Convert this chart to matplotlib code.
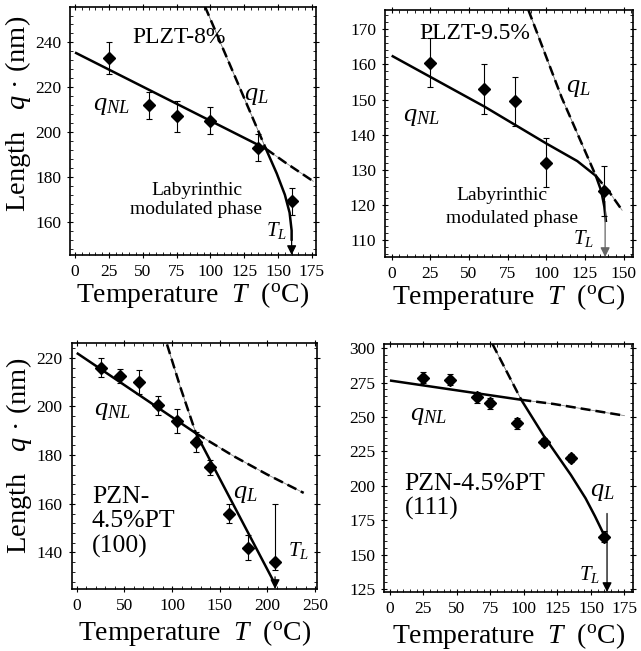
import matplotlib
matplotlib.use('Agg')
import matplotlib.pyplot as plt
from matplotlib.ticker import MultipleLocator

plt.rcParams['font.family'] = ['Liberation Serif', 'DejaVu Serif']
plt.rcParams['mathtext.fontset'] = 'custom'
plt.rcParams['mathtext.rm'] = 'Liberation Serif'
plt.rcParams['mathtext.it'] = 'Liberation Serif:italic'
plt.rcParams['mathtext.bf'] = 'Liberation Serif:bold'

# ---------------- data ----------------
# Panel 1: PLZT-8%
T1 = [25, 55, 75, 100, 135, 160]
q1 = [233, 212, 207, 205, 193, 169]
e1 = [7, 6, 7, 6, 6, 6]
nl1_T = [0, 141]
nl1_q = [235.5, 192.5]
nl1d_T = [141, 155, 176]
nl1d_q = [192.5, 186.5, 178]
l1d_T = [96, 141]
l1d_q = [256, 192.5]
l1_T = [141, 149, 155, 158.5, 160, 160]
l1_q = [192.5, 181.5, 172, 164, 156, 152]
TL1 = 160

# Panel 2: PLZT-9.5%
T2 = [25, 60, 80, 100, 137]
q2 = [160.5, 153, 149.5, 132, 124]
e2 = [7, 7, 7, 7, 7]
nl2_T = [0, 60, 100, 120, 132]
nl2_q = [162.5, 148, 137.5, 132.5, 128.3]
nl2d_T = [132, 141, 149]
nl2d_q = [128.3, 123.5, 118.5]
l2d_T = [88.4, 110, 132]
l2d_q = [175.5, 150.5, 128.3]
l2_T = [132, 135.5, 137.5, 138.5]
l2_q = [128.3, 124, 119.5, 115.5]
TL2 = 138

# Panel 3: PZN-4.5%PT (100)
T3 = [25, 45, 65, 85, 105, 125, 140, 160, 180, 208]
q3 = [216, 212.5, 210, 200.5, 194, 185.5, 175, 156, 142, 136]
e3_lo = [4, 3, 5, 4, 5, 4, 3, 4, 5, 3]
e3_hi = [4, 3, 5, 4, 5, 4, 3, 4, 5, 24]
nl3_T = [0, 125]
nl3_q = [222, 189]
nl3d_T = [125, 165, 200, 238]
nl3d_q = [189, 179.5, 172, 164.5]
l3d_T = [94.7, 108.7, 125]
l3d_q = [225.5, 207.9, 189]
l3_T = [125, 208]
l3_q = [189, 127]
TL3 = 208

# Panel 4: PZN-4.5%PT (111)
T4 = [25, 45, 65, 75, 95, 115, 135, 160]
q4 = [278.5, 277, 264.5, 260, 245.5, 232, 220, 163]
e4 = [4, 4, 4, 4, 4, 3, 3, 4]
nl4_T = [0, 98]
nl4_q = [276.5, 262.5]
nl4d_T = [98, 122, 150, 175]
nl4d_q = [262.5, 259.5, 255, 251]
l4d_T = [76.5, 98]
l4d_q = [303, 262.5]
l4_T = [98, 115, 135, 146, 153, 158, 160.5]
l4_q = [262.5, 236, 208, 191, 178, 168, 163]
TL4 = 162

XLABEL = r'Temperature  $T$  ($^{\mathrm{o}}$C)'
YLABEL = 'Length   $q$ \u00b7 (nm)'

fig = plt.figure(figsize=(6.41, 6.51), dpi=100)


def axes_px(l, t, r, b):
    return fig.add_axes([l / 641, 1 - b / 651, (r - l) / 641, (b - t) / 651])


def style(ax, xlim, ylim, xmaj, ymaj, ylabel=True, xpad=0):
    ax.set_xlim(*xlim)
    ax.set_ylim(*ylim)
    ax.xaxis.set_major_locator(MultipleLocator(xmaj))
    ax.yaxis.set_major_locator(MultipleLocator(ymaj))
    ax.xaxis.set_minor_locator(MultipleLocator(xmaj / 5))
    ax.yaxis.set_minor_locator(MultipleLocator(ymaj / 5))
    ax.tick_params(which='major', direction='inout', length=5, width=0.8,
                   top=True, right=True, labelsize=12.5, pad=4)
    ax.tick_params(which='minor', direction='in', length=2.5, width=0.6,
                   top=True, right=True)
    for s in ax.spines.values():
        s.set_linewidth(1.2)
    ax.set_xlabel(XLABEL, fontsize=20, labelpad=xpad)
    if ylabel:
        ax.set_ylabel(YLABEL, fontsize=20.5)


def draw(ax, T, q, err, nlT, nlq, nldT, nldq, ldT, ldq, lT, lq, TL, arrow_from, ylim0,
         arrow_color='black'):
    ax.plot(nlT, nlq, color='black', lw=1.8, solid_capstyle='butt')
    ax.plot(nldT, nldq, color='0.55', lw=0.6)
    ax.plot(nldT, nldq, color='black', lw=1.8, dashes=(4, 2))
    ax.plot(ldT, ldq, color='0.4', lw=0.6)
    ax.plot(ldT, ldq, color='black', lw=1.8, dashes=(4, 2))
    ax.plot(lT, lq, color='black', lw=1.8)
    ax.annotate('', xy=(TL, ylim0), xytext=(TL, arrow_from),
                arrowprops=dict(arrowstyle='-|>', color=arrow_color, lw=0.9,
                                mutation_scale=14, shrinkA=0, shrinkB=0,
                                facecolor='black', edgecolor=arrow_color))
    ax.errorbar(T, q, yerr=err, fmt='D', ms=6.5, color='black', ecolor='black',
                elinewidth=0.8, capsize=2.5, capthick=0.8, zorder=5)


# Panel 1
ax1 = axes_px(70, 7, 316, 255)
ylim1 = (145.1, 255.8)
style(ax1, (-3.7, 178), ylim1, 25, 20)
draw(ax1, T1, q1, e1, nl1_T, nl1_q, nl1d_T, nl1d_q, l1d_T, l1d_q, l1_T, l1_q,
     TL1, 152, ylim1[0])
ax1.text(77, 242, 'PLZT-8%', fontsize=17, ha='center', va='center')
ax1.text(27, 211.5, r'$q_{NL}$', fontsize=19, ha='center', va='center')
ax1.text(134, 216, r'$q_L$', fontsize=19, ha='center', va='center')
ax1.text(90, 174, 'Labyrinthic', fontsize=14, ha='center', va='center')
ax1.text(89, 165.3, 'modulated phase', fontsize=14, ha='center', va='center')
ax1.text(149, 156, r'$T_L$', fontsize=15, ha='center', va='center')

# Panel 2
ax2 = axes_px(385, 10, 632.5, 257)
ylim2 = (105.2, 175.5)
style(ax2, (-4.3, 155.7), ylim2, 25, 10, ylabel=False)
draw(ax2, T2, q2, e2, nl2_T, nl2_q, nl2d_T, nl2d_q, l2d_T, l2d_q, l2_T, l2_q,
     TL2, 121, ylim2[0], arrow_color='0.4')
ax2.text(54, 168.9, 'PLZT-9.5%', fontsize=17, ha='center', va='center')
ax2.text(19.5, 145, r'$q_{NL}$', fontsize=19, ha='center', va='center')
ax2.text(120.5, 153.2, r'$q_L$', fontsize=19, ha='center', va='center')
ax2.text(71, 122.8, 'Labyrinthic', fontsize=14, ha='center', va='center')
ax2.text(77.5, 116.2, 'modulated phase', fontsize=14, ha='center', va='center')
ax2.text(124, 110.4, r'$T_L$', fontsize=15, ha='center', va='center')

# Panel 3
ax3 = axes_px(71.7, 342.5, 317, 589)
ylim3 = (125, 226.3)
style(ax3, (-5.3, 252), ylim3, 50, 20, xpad=3)
draw(ax3, T3, q3, [e3_lo, e3_hi], nl3_T, nl3_q, nl3d_T, nl3d_q, l3d_T, l3d_q,
     l3_T, l3_q, TL3, 130, ylim3[0])
ax3.text(37, 198.2, r'$q_{NL}$', fontsize=19, ha='center', va='center')
ax3.text(177, 163.9, r'$q_L$', fontsize=19, ha='center', va='center')
ax3.text(15.8, 152.5, 'PZN-\n4.5%PT\n(100)', fontsize=18.5, ha='left', va='center',
         linespacing=1.15)
ax3.text(233, 141, r'$T_L$', fontsize=15, ha='center', va='center')

# Panel 4
ax4 = axes_px(384.3, 344, 632.5, 592)
ylim4 = (123, 303)
style(ax4, (-4.2, 181), ylim4, 25, 25, ylabel=False, xpad=3)
draw(ax4, T4, q4, e4, nl4_T, nl4_q, nl4d_T, nl4d_q, l4d_T, l4d_q, l4_T, l4_q,
     TL4, 180, ylim4[0])
ax4.text(28.5, 251, r'$q_{NL}$', fontsize=19, ha='center', va='center')
ax4.text(158.8, 195.3, r'$q_L$', fontsize=19, ha='center', va='center')
ax4.text(11, 192.3, 'PZN-4.5%PT\n(111)', fontsize=18.5, ha='left', va='center',
         linespacing=1.15)
ax4.text(149, 135.7, r'$T_L$', fontsize=15, ha='center', va='center')

ax1.yaxis.set_label_coords(-0.15, 0.57)
ax3.yaxis.set_label_coords(-0.155, 0.54)

fig.savefig('out.png', dpi=100)
